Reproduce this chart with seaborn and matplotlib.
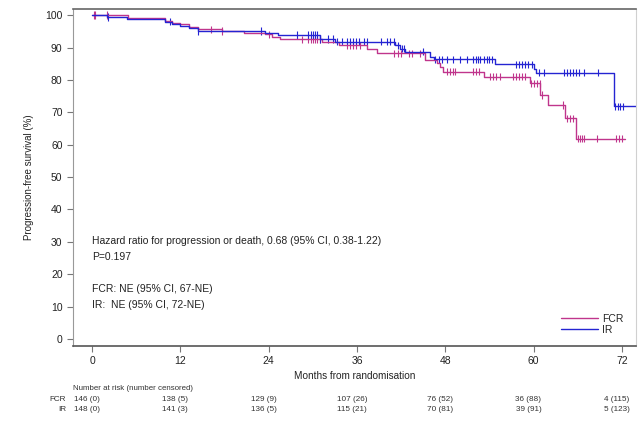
import numpy as np
import pandas as pd
import matplotlib
matplotlib.use("Agg")
import matplotlib.pyplot as plt
import matplotlib.transforms as mtransforms
import seaborn as sns

# Kaplan-Meier steps (months, % progression-free)
fcr_times = [0, 4.9, 9.9, 10.8, 12.0, 13.1, 14.4, 17.6, 20.6, 23.5, 24.4, 25.5, 31.2, 33.5,
             37.3, 38.7, 45.2, 46.8, 47.3, 47.7, 53.2, 59.5, 60.9, 62.0, 64.3, 65.8, 72.4]
fcr_surv = [100, 99.1, 98.2, 97.6, 97.2, 96.4, 95.6, 95.1, 94.5, 94.1, 93.4, 92.5, 91.6, 90.7,
            89.6, 88.2, 86.1, 85.2, 84.1, 82.5, 81.0, 78.9, 75.3, 72.2, 68.1, 61.9, 61.9]
ir_times = [0, 2.0, 4.7, 9.9, 10.8, 12.0, 13.1, 14.4, 23.5, 25.3, 31.0, 33.0, 41.2, 41.9,
            42.5, 45.9, 46.4, 54.7, 60.0, 60.3, 70.9, 73.9]
ir_surv = [100, 99.4, 98.8, 98.0, 97.4, 96.8, 96.0, 95.1, 94.5, 93.9, 92.6, 91.8, 90.7, 89.7,
           88.7, 87.2, 86.4, 84.8, 83.4, 82.2, 71.8, 71.8]

fcr_censor = [0.2, 0.4, 2.0, 16.2, 17.6, 24.0, 28.5, 29.4, 29.7, 30.0, 30.3, 30.6, 31.0,
              34.6, 35.0, 35.4, 35.8, 36.4, 41.0, 41.5, 42.0, 43.0, 43.5, 44.5, 48.2, 48.6,
              49.0, 49.3, 51.7, 52.1, 52.6, 54.1, 54.5, 54.9, 55.4, 57.2, 57.6, 58.0, 58.4,
              58.8, 59.7, 60.0, 60.4, 60.8, 61.1, 64.0, 64.5, 64.9, 65.3, 66.0, 66.3, 66.6,
              66.9, 68.6, 71.2, 71.6, 72.0]
ir_censor = [2.2, 10.6, 14.4, 23.0, 27.8, 29.4, 29.7, 30.0, 30.3, 30.6, 31.0, 32.1, 32.7,
             33.3, 33.9, 34.6, 35.0, 35.4, 35.8, 36.2, 36.9, 37.3, 39.2, 40.1, 40.5, 41.0,
             41.6, 42.1, 42.4, 45.0, 46.6, 47.1, 47.6, 48.2, 49.1, 50.0, 50.9, 51.8, 52.1,
             52.4, 52.7, 53.2, 53.6, 54.0, 54.3, 57.6, 58.0, 58.4, 58.8, 59.2, 59.8, 60.7,
             61.4, 64.1, 64.5, 64.9, 65.3, 65.7, 66.1, 66.8, 68.7, 71.1, 71.4, 71.8, 72.2]

x_ticks = [0, 12, 24, 36, 48, 60, 72]
y_ticks = list(range(0, 101, 10))
arms = ["FCR", "IR"]
at_risk = {
    "FCR": ["146 (0)", "138 (5)", "129 (9)", "107 (26)", "76 (52)", "36 (88)", "4 (115)"],
    "IR": ["148 (0)", "141 (3)", "136 (5)", "115 (21)", "70 (81)", "39 (91)", "5 (123)"],
}
notes = [
    "Hazard ratio for progression or death, 0.68 (95% CI, 0.38-1.22)",
    "P=0.197",
    "",
    "FCR: NE (95% CI, 67-NE)",
    "IR:  NE (95% CI, 72-NE)",
]
colors = {"FCR": "#c0358c", "IR": "#2424d2"}


def surv_at(times, surv, t):
	idx = np.searchsorted(times, t, side="right") - 1
	return np.asarray(surv)[idx]


curves = pd.concat([
	pd.DataFrame({"month": fcr_times, "surv": fcr_surv, "arm": "FCR"}),
	pd.DataFrame({"month": ir_times, "surv": ir_surv, "arm": "IR"}),
], ignore_index=True)
censors = pd.concat([
	pd.DataFrame({"month": fcr_censor, "surv": surv_at(fcr_times, fcr_surv, fcr_censor), "arm": "FCR"}),
	pd.DataFrame({"month": ir_censor, "surv": surv_at(ir_times, ir_surv, ir_censor), "arm": "IR"}),
], ignore_index=True)

sns.set_style("white")
plt.rcParams["font.family"] = ["Liberation Sans", "DejaVu Sans"]

fig = plt.figure(figsize=(6.43, 4.21), dpi=100)
ax = fig.add_axes([0.1135, 0.178, 0.8755, 0.8006])

sns.lineplot(data=curves, x="month", y="surv", hue="arm", palette=colors, estimator=None,
             sort=False, drawstyle="steps-post", linewidth=1.0, ax=ax)
sns.scatterplot(data=censors, x="month", y="surv", hue="arm", palette=colors, marker="|",
                s=28, linewidth=0.8, legend=False, ax=ax)

ax.set_xlim(-2.6, 73.9)
ax.set_ylim(-2.2, 101.9)
ax.set_xticks(x_ticks)
ax.set_yticks(y_ticks)
ax.tick_params(axis="both", direction="out", length=4, width=0.8, color="#777777",
               labelsize=7.5, labelcolor="#222222", left=True, bottom=True)
ax.set_xlabel("Months from randomisation", fontsize=7.2, color="#222222", labelpad=3)
ax.set_ylabel("Progression-free survival (%)", fontsize=7.0, color="#222222", labelpad=8)

ax.spines["top"].set_color("#666666")
ax.spines["top"].set_linewidth(1.2)
ax.spines["bottom"].set_color("#555555")
ax.spines["bottom"].set_linewidth(1.2)
ax.spines["left"].set_color("#999999")
ax.spines["right"].set_color("#d0d0d0")

handles, labels = ax.get_legend_handles_labels()
ax.legend(handles, labels, loc="lower right", bbox_to_anchor=(0.995, 0.005), frameon=False,
          fontsize=7.5, handlelength=3.6, handletextpad=0.4, labelspacing=0.1)

for i, line in enumerate(notes):
	ax.text(0, 30.2 - i * 4.9, line, fontsize=7.5, color="#222222", va="center", ha="left")

trans = mtransforms.blended_transform_factory(ax.transData, fig.transFigure)
fig.text(0.1135, 0.078, "Number at risk (number censored)", fontsize=5.7, color="#333333",
         va="center", ha="left")
for row, arm in enumerate(arms):
	y = 0.052 - row * 0.025
	fig.text(0.103, y, arm, fontsize=5.9, color="#333333", va="center", ha="right")
	for month, label in zip(x_ticks, at_risk[arm]):
		ax.text(month - 0.7, y, label, transform=trans, fontsize=5.9, color="#333333",
		        va="center", ha="center")

fig.savefig("out.png", dpi=100)
